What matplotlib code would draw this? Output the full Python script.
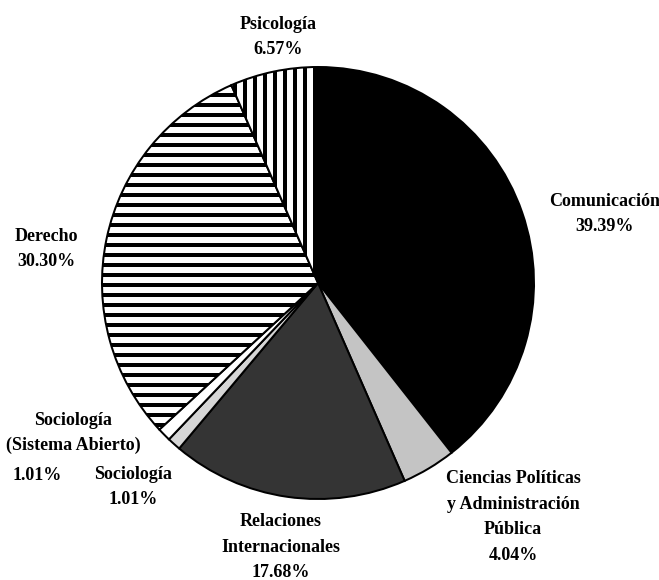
import matplotlib.pyplot as plt

# datos del gráfico (porcentajes por carrera)
carreras = ['Comunicación', 'Ciencias Políticas\ny Administración\nPública',
            'Relaciones\nInternacionales', 'Sociología',
            'Sociología\n(Sistema Abierto)', 'Derecho', 'Psicología']
porcentajes = [39.39, 4.04, 17.68, 1.01, 1.01, 30.30, 6.57]

colores = ['black', '#c4c4c4', '#343434', '#d6d6d6', 'white', 'white', 'white']
tramas = ['', '', '', '', '', '--', '||']

plt.rcParams['hatch.linewidth'] = 2.4
plt.rcParams['font.family'] = ['Liberation Serif', 'DejaVu Serif']

fig = plt.figure(figsize=(659 / 120, 580 / 120), dpi=120)
ax = fig.add_axes([0, 0, 1, 1])

wedges, _ = ax.pie(porcentajes, colors=colores, startangle=90, counterclock=False,
                   center=(318, 297), radius=216,
                   wedgeprops=dict(edgecolor='black', linewidth=1.2))
for w, h in zip(wedges, tramas):
    w.set_hatch(h)

ax.set_xlim(0, 659)
ax.set_ylim(0, 580)
ax.set_aspect('equal')
ax.axis('off')

# posiciones de etiquetas (pixeles, desde arriba)
pos = [(605, 214), (513, 517), (281, 547), (133, 487), None, (46, 249), (278, 37)]
fs = 10.8
for nombre, v, p in zip(carreras, porcentajes, pos):
    if p is None:
        continue
    ax.text(p[0], 580 - p[1], f'{nombre}\n{v:.2f}%', ha='center', va='center',
            fontsize=fs, fontweight='bold', linespacing=1.65)

# Sociología (Sistema Abierto): porcentaje desplazado a la izquierda
ax.text(73, 580 - 433, carreras[4], ha='center', va='center',
        fontsize=fs, fontweight='bold', linespacing=1.65)
ax.text(37, 580 - 475, f'{porcentajes[4]:.2f}%', ha='center', va='center',
        fontsize=fs, fontweight='bold')

fig.savefig('out.png', dpi=120)
